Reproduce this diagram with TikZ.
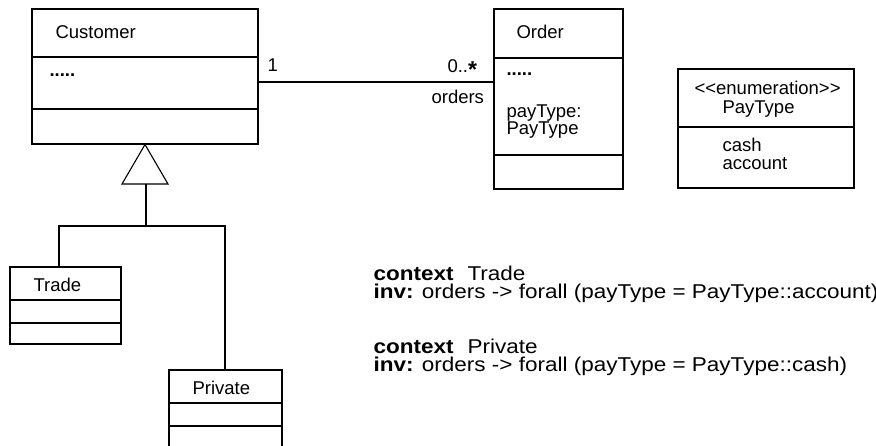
\documentclass[tikz,border=0pt]{standalone}
\usepackage{fontspec}
\usepackage{graphicx}
\setmainfont{Liberation Sans}
\newcommand{\cstretch}[1]{\scalebox{1.125}[1]{#1}}
\begin{document}
\begin{tikzpicture}[x=1pt,y=-1pt,line width=1.1pt,
  classbox/.style={draw,rectangle,inner sep=0pt},
  lbl/.style={inner sep=0pt,anchor=base west,font=\fontsize{18.5}{18}\selectfont},
  cst/.style={inner sep=0pt,anchor=base west,font=\fontsize{20}{18}\selectfont}]
\useasboundingbox (0,0) rectangle (876,446);
% Customer
\node[classbox,minimum width=226pt,minimum height=135pt] (customer) at (145,76.5) {};
\draw (customer.west |- 0,57) -- (customer.east |- 0,57);
\draw (customer.west |- 0,109) -- (customer.east |- 0,109);
\node[lbl] (custname) at (55,39) {Customer};
\node[lbl] (custattr) at (49,77) {\bfseries .....};
% Order
\node[classbox,minimum width=129pt,minimum height=180pt] (order) at (558.5,99) {};
\draw (order.west |- 0,58) -- (order.east |- 0,58);
\draw (order.west |- 0,155) -- (order.east |- 0,155);
\node[lbl] (ordname) at (516,39) {Order};
\node[lbl] (ordattr) at (506,76) {\bfseries .....};
\node[lbl] (ordpt1) at (506,118) {payType:};
\node[lbl] (ordpt2) at (506,135) {PayType};
% association
\coordinate (assoc) at (0,82);
\draw (customer.east |- assoc) -- (order.west |- assoc);
\node[lbl] (mult1) at (267,72) {1};
\node[lbl] (multn) at (447,73) {0..{\fontsize{23}{23}\bfseries\raisebox{-5pt}{*}}};
\node[lbl] (role) at (431,104) {orders};
% Enumeration
\node[classbox,minimum width=176pt,minimum height=119pt] (enum) at (766,128.5) {};
\draw (enum.west |- 0,127) -- (enum.east |- 0,127);
\node[lbl] (stereo) at (694,95) {\mbox{<}\mbox{<}enumeration\mbox{>}\mbox{>}};
\node[lbl] (enumname) at (722,114) {PayType};
\node[lbl] (lit1) at (722,152) {cash};
\node[lbl] (lit2) at (722,170) {account};
% Generalization
\draw[fill=white] (customer.south) -- (122,184) -- (168,184) -- cycle;
\coordinate (tribase) at (146,184);
\coordinate (joint) at (146,226);
% Trade
\node[classbox,minimum width=111pt,minimum height=77pt] (trade) at (65.5,305.5) {};
\draw (trade.west |- 0,300) -- (trade.east |- 0,300);
\draw (trade.west |- 0,323) -- (trade.east |- 0,323);
\node[lbl] (tradename) at (33,292) {Trade};
% Private
\node[classbox,minimum width=113pt,minimum height=90pt] (private) at (225.5,415) {};
\draw (private.west |- 0,403) -- (private.east |- 0,403);
\draw (private.west |- 0,426) -- (private.east |- 0,426);
\node[lbl] (privname) at (192,395) {Private};
% generalization lines
\draw (tribase) -- (joint);
\draw (joint) -| ([xshift=-6.5pt]trade.north);
\draw (joint) -| ([xshift=-0.5pt]private.north);
% constraints
\node[cst] (c1a) at (373,281) {\cstretch{\bfseries context}};
\node[cst] (c1b) at (467,281) {\cstretch{Trade}};
\node[cst] (c1c) at (373,299) {\cstretch{\textbf{inv:} orders -> forall (payType = PayType::account)}};
\node[cst] (c2a) at (373,354) {\cstretch{\bfseries context}};
\node[cst] (c2b) at (467,354) {\cstretch{Private}};
\node[cst] (c2c) at (373,372) {\cstretch{\textbf{inv:} orders -> forall (payType = PayType::cash)}};
\end{tikzpicture}
\end{document}
